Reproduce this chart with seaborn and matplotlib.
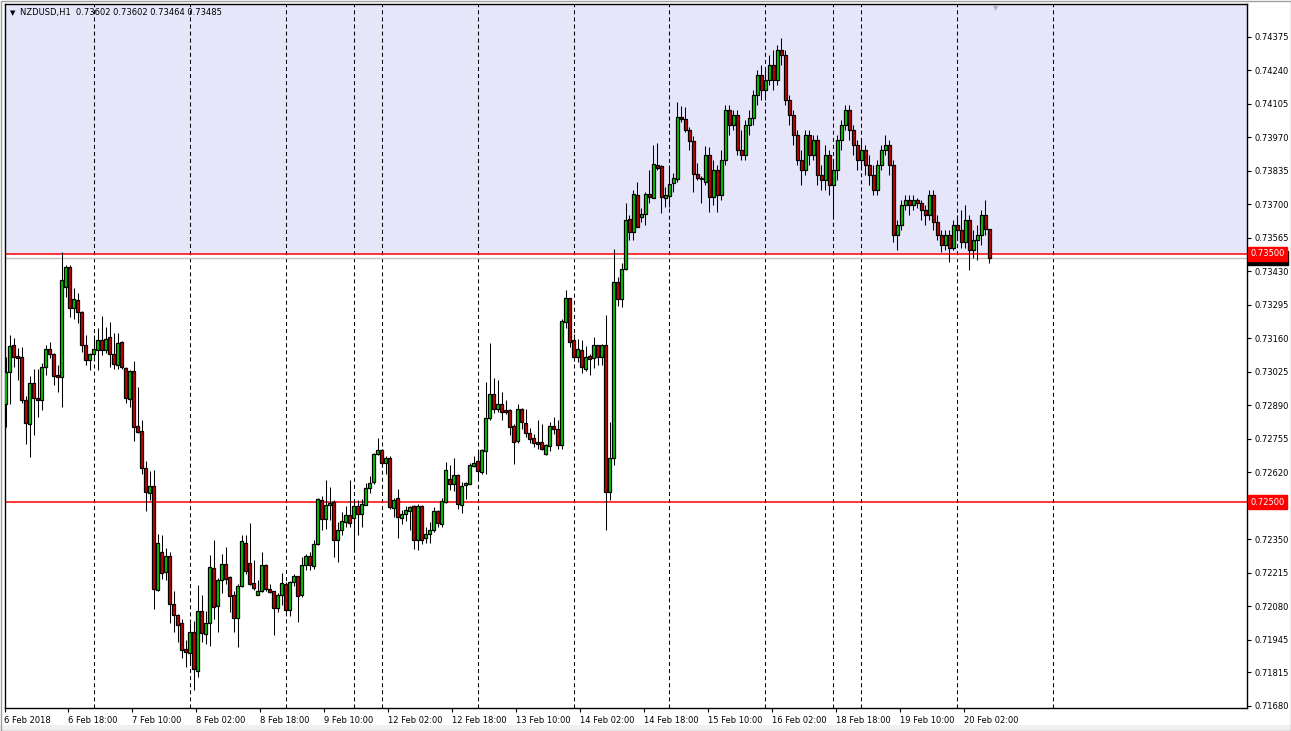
import numpy as np
import matplotlib
matplotlib.use("Agg")
import matplotlib.pyplot as plt
import matplotlib.transforms as mtransforms
from matplotlib.patches import Rectangle
import seaborn as sns

# NZDUSD H1 candles
opens = [
    0.72894, 0.73025, 0.73131, 0.73088, 0.73085, 0.72913, 0.72816, 0.72978, 0.72921, 0.72913,
    0.73045, 0.73116, 0.73096, 0.73011, 0.73005, 0.73365, 0.73448, 0.73283, 0.73314, 0.73267,
    0.73135, 0.73074, 0.73095, 0.73112, 0.73155, 0.73112, 0.73166, 0.73095, 0.73054, 0.73145,
    0.73042, 0.72916, 0.73028, 0.72806, 0.72785, 0.72639, 0.72537, 0.72563, 0.72147, 0.72301,
    0.72218, 0.72285, 0.72090, 0.72047, 0.72012, 0.71908, 0.71892, 0.71978, 0.71818, 0.72063,
    0.71969, 0.72013, 0.72235, 0.72081, 0.72187, 0.72251, 0.72198, 0.72124, 0.72034, 0.72164,
    0.72336, 0.72255, 0.72175, 0.72126, 0.72140, 0.72247, 0.72151, 0.72140, 0.72074, 0.72126,
    0.72171, 0.72066, 0.72177, 0.72202, 0.72124, 0.72245, 0.72281, 0.72242, 0.72330, 0.72507,
    0.72433, 0.72487, 0.72500, 0.72346, 0.72386, 0.72420, 0.72449, 0.72437, 0.72483, 0.72453,
    0.72490, 0.72557, 0.72581, 0.72693, 0.72712, 0.72659, 0.72679, 0.72478, 0.72518, 0.72437,
    0.72451, 0.72464, 0.72484, 0.72348, 0.72484, 0.72356, 0.72370, 0.72386, 0.72463, 0.72413,
    0.72500, 0.72594, 0.72574, 0.72608, 0.72487, 0.72570, 0.72574, 0.72646, 0.72664, 0.72621,
    0.72705, 0.72837, 0.72935, 0.72874, 0.72894, 0.72870, 0.72870, 0.72807, 0.72746, 0.72877,
    0.72820, 0.72780, 0.72760, 0.72742, 0.72742, 0.72695, 0.72726, 0.72805, 0.72796, 0.72732,
    0.73227, 0.73321, 0.73153, 0.73083, 0.73112, 0.73036, 0.73088, 0.73079, 0.73132, 0.73083,
    0.73132, 0.72541, 0.72679, 0.73385, 0.73320, 0.73439, 0.73639, 0.73589, 0.73737, 0.73650,
    0.73659, 0.73740, 0.73724, 0.73858, 0.73854, 0.73724, 0.73733, 0.73784, 0.73801, 0.74051,
    0.74043, 0.74000, 0.73955, 0.73821, 0.73807, 0.73791, 0.73899, 0.73728, 0.73838, 0.73738,
    0.73879, 0.74081, 0.74020, 0.74060, 0.73919, 0.73899, 0.74020, 0.74048, 0.74141, 0.74222,
    0.74161, 0.74202, 0.74262, 0.74202, 0.74323, 0.74302, 0.74121, 0.74060, 0.73980, 0.73879,
    0.73838, 0.73980, 0.73899, 0.73959, 0.73818, 0.73798, 0.73899, 0.73778, 0.73838, 0.73959,
    0.74020, 0.74081, 0.74000, 0.73939, 0.73879, 0.73919, 0.73859, 0.73818, 0.73758, 0.73859,
    0.73919, 0.73939, 0.73859, 0.73576, 0.73617, 0.73697, 0.73717, 0.73697, 0.73717, 0.73705,
    0.73677, 0.73657, 0.73738, 0.73629, 0.73576, 0.73536, 0.73576, 0.73524, 0.73617, 0.73596,
    0.73548, 0.73637, 0.73516, 0.73556, 0.73576, 0.73657, 0.73602,
]
highs = [
    0.73085, 0.73175, 0.73163, 0.73119, 0.73123, 0.72927, 0.73007, 0.73038, 0.73038, 0.73061,
    0.73132, 0.73144, 0.73101, 0.73052, 0.73506, 0.73455, 0.73455, 0.73361, 0.73344, 0.73270,
    0.73173, 0.73101, 0.73175, 0.73202, 0.73251, 0.73206, 0.73226, 0.73180, 0.73180, 0.73149,
    0.73045, 0.73034, 0.73068, 0.72962, 0.72830, 0.72666, 0.72624, 0.72628, 0.72372, 0.72366,
    0.72316, 0.72298, 0.72140, 0.72049, 0.72029, 0.71945, 0.72012, 0.72023, 0.72167, 0.72124,
    0.72063, 0.72288, 0.72346, 0.72195, 0.72292, 0.72319, 0.72202, 0.72144, 0.72171, 0.72366,
    0.72366, 0.72417, 0.72268, 0.72188, 0.72301, 0.72251, 0.72171, 0.72144, 0.72133, 0.72215,
    0.72180, 0.72184, 0.72211, 0.72204, 0.72278, 0.72292, 0.72299, 0.72346, 0.72518, 0.72525,
    0.72588, 0.72561, 0.72507, 0.72420, 0.72460, 0.72483, 0.72588, 0.72507, 0.72507, 0.72514,
    0.72578, 0.72604, 0.72698, 0.72759, 0.72716, 0.72685, 0.72685, 0.72518, 0.72554, 0.72470,
    0.72483, 0.72483, 0.72490, 0.72494, 0.72487, 0.72399, 0.72420, 0.72480, 0.72469, 0.72516,
    0.72662, 0.72648, 0.72679, 0.72615, 0.72581, 0.72581, 0.72658, 0.72685, 0.72702, 0.72716,
    0.72985, 0.73143, 0.73002, 0.72991, 0.72944, 0.72911, 0.72877, 0.72814, 0.72897, 0.72881,
    0.72877, 0.72799, 0.72776, 0.72830, 0.72816, 0.72736, 0.72823, 0.72843, 0.72830, 0.73236,
    0.73354, 0.73321, 0.73179, 0.73159, 0.73153, 0.73128, 0.73096, 0.73166, 0.73132, 0.73136,
    0.73253, 0.72823, 0.73518, 0.73408, 0.73464, 0.73704, 0.73657, 0.73757, 0.73791, 0.73684,
    0.73751, 0.73838, 0.73939, 0.73946, 0.73858, 0.73771, 0.73858, 0.73825, 0.74111, 0.74096,
    0.74091, 0.74013, 0.73973, 0.73868, 0.73814, 0.73935, 0.73932, 0.73879, 0.73859, 0.73919,
    0.74101, 0.74101, 0.74081, 0.74081, 0.74000, 0.74040, 0.74081, 0.74161, 0.74242, 0.74262,
    0.74242, 0.74302, 0.74323, 0.74343, 0.74371, 0.74323, 0.74141, 0.74081, 0.74000, 0.73919,
    0.74000, 0.74000, 0.73980, 0.73980, 0.73859, 0.73939, 0.73919, 0.73879, 0.73980, 0.74040,
    0.74101, 0.74101, 0.74020, 0.73959, 0.73959, 0.73939, 0.73899, 0.73859, 0.73879, 0.73939,
    0.73980, 0.73959, 0.73879, 0.73637, 0.73717, 0.73738, 0.73738, 0.73738, 0.73727, 0.73717,
    0.73697, 0.73758, 0.73758, 0.73657, 0.73596, 0.73596, 0.73596, 0.73637, 0.73657, 0.73677,
    0.73697, 0.73657, 0.73596, 0.73617, 0.73677, 0.73717, 0.73602,
]
lows = [
    0.72803, 0.72897, 0.73045, 0.72991, 0.72900, 0.72736, 0.72682, 0.72769, 0.72843, 0.72873,
    0.73011, 0.73079, 0.72971, 0.72944, 0.72884, 0.73327, 0.73244, 0.73237, 0.73222, 0.73105,
    0.73054, 0.73034, 0.73072, 0.73034, 0.73092, 0.73099, 0.73045, 0.73038, 0.73036, 0.73038,
    0.72900, 0.72884, 0.72746, 0.72779, 0.72612, 0.72464, 0.72510, 0.72070, 0.72144, 0.72191,
    0.72187, 0.72012, 0.71976, 0.71935, 0.71871, 0.71834, 0.71858, 0.71743, 0.71794, 0.71935,
    0.71929, 0.71922, 0.72030, 0.71976, 0.72133, 0.72171, 0.72056, 0.71978, 0.71915, 0.72160,
    0.72211, 0.72168, 0.72148, 0.72124, 0.72137, 0.72144, 0.72133, 0.71965, 0.72059, 0.72086,
    0.72056, 0.72043, 0.72164, 0.72016, 0.72117, 0.72225, 0.72225, 0.72231, 0.72326, 0.72386,
    0.72393, 0.72427, 0.72279, 0.72258, 0.72366, 0.72400, 0.72400, 0.72299, 0.72366, 0.72400,
    0.72487, 0.72537, 0.72574, 0.72689, 0.72642, 0.72615, 0.72474, 0.72440, 0.72357, 0.72413,
    0.72422, 0.72386, 0.72312, 0.72308, 0.72332, 0.72335, 0.72335, 0.72379, 0.72399, 0.72399,
    0.72496, 0.72547, 0.72543, 0.72473, 0.72456, 0.72514, 0.72572, 0.72642, 0.72588, 0.72615,
    0.72615, 0.72830, 0.72859, 0.72863, 0.72830, 0.72857, 0.72769, 0.72652, 0.72738, 0.72796,
    0.72763, 0.72738, 0.72722, 0.72715, 0.72709, 0.72691, 0.72706, 0.72773, 0.72715, 0.72715,
    0.73200, 0.73126, 0.73069, 0.73065, 0.73021, 0.73029, 0.73014, 0.73041, 0.73052, 0.73054,
    0.72386, 0.72507, 0.72650, 0.73290, 0.73287, 0.73435, 0.73556, 0.73556, 0.73609, 0.73630,
    0.73616, 0.73704, 0.73724, 0.73838, 0.73666, 0.73690, 0.73690, 0.73751, 0.73791, 0.74033,
    0.73993, 0.73919, 0.73748, 0.73798, 0.73704, 0.73778, 0.73670, 0.73697, 0.73669, 0.73717,
    0.73859, 0.73980, 0.74000, 0.73899, 0.73879, 0.73879, 0.73980, 0.74020, 0.74101, 0.74121,
    0.74121, 0.74181, 0.74161, 0.74181, 0.74262, 0.74101, 0.74020, 0.73939, 0.73859, 0.73778,
    0.73818, 0.73859, 0.73879, 0.73778, 0.73758, 0.73758, 0.73738, 0.73645, 0.73798, 0.73919,
    0.74000, 0.73960, 0.73899, 0.73838, 0.73838, 0.73818, 0.73778, 0.73738, 0.73738, 0.73838,
    0.73899, 0.73818, 0.73548, 0.73516, 0.73596, 0.73677, 0.73657, 0.73677, 0.73685, 0.73637,
    0.73617, 0.73637, 0.73596, 0.73556, 0.73508, 0.73516, 0.73467, 0.73516, 0.73556, 0.73524,
    0.73524, 0.73435, 0.73483, 0.73475, 0.73536, 0.73576, 0.73464,
]
closes = [
    0.73025, 0.73128, 0.73085, 0.73081, 0.72913, 0.72819, 0.72978, 0.72921, 0.72913, 0.73045,
    0.73115, 0.73095, 0.73009, 0.73005, 0.73395, 0.73448, 0.73283, 0.73317, 0.73267, 0.73135,
    0.73074, 0.73096, 0.73115, 0.73155, 0.73112, 0.73159, 0.73096, 0.73056, 0.73143, 0.73045,
    0.72920, 0.73028, 0.72803, 0.72783, 0.72639, 0.72541, 0.72563, 0.72151, 0.72336, 0.72215,
    0.72285, 0.72090, 0.72046, 0.72005, 0.71904, 0.71895, 0.71978, 0.71828, 0.72063, 0.71973,
    0.72013, 0.72238, 0.72077, 0.72188, 0.72251, 0.72191, 0.72121, 0.72034, 0.72164, 0.72342,
    0.72221, 0.72171, 0.72155, 0.72143, 0.72247, 0.72151, 0.72137, 0.72074, 0.72126, 0.72175,
    0.72067, 0.72177, 0.72202, 0.72121, 0.72245, 0.72281, 0.72245, 0.72330, 0.72511, 0.72433,
    0.72487, 0.72498, 0.72346, 0.72386, 0.72422, 0.72447, 0.72417, 0.72483, 0.72453, 0.72494,
    0.72558, 0.72578, 0.72693, 0.72712, 0.72659, 0.72679, 0.72480, 0.72507, 0.72440, 0.72453,
    0.72470, 0.72480, 0.72348, 0.72484, 0.72348, 0.72373, 0.72389, 0.72463, 0.72416, 0.72503,
    0.72631, 0.72574, 0.72608, 0.72491, 0.72566, 0.72577, 0.72648, 0.72659, 0.72624, 0.72709,
    0.72837, 0.72935, 0.72874, 0.72894, 0.72863, 0.72863, 0.72803, 0.72742, 0.72877, 0.72823,
    0.72779, 0.72756, 0.72738, 0.72736, 0.72715, 0.72729, 0.72807, 0.72796, 0.72732, 0.73229,
    0.73321, 0.73146, 0.73085, 0.73115, 0.73045, 0.73085, 0.73075, 0.73135, 0.73083, 0.73132,
    0.72541, 0.72679, 0.73385, 0.73320, 0.73441, 0.73636, 0.73589, 0.73741, 0.73609, 0.73659,
    0.73740, 0.73728, 0.73862, 0.73845, 0.73728, 0.73737, 0.73780, 0.73805, 0.74051, 0.74044,
    0.74000, 0.73955, 0.73821, 0.73805, 0.73801, 0.73899, 0.73728, 0.73838, 0.73738, 0.73879,
    0.74081, 0.74020, 0.74060, 0.73919, 0.73899, 0.74020, 0.74048, 0.74141, 0.74222, 0.74161,
    0.74202, 0.74262, 0.74202, 0.74323, 0.74302, 0.74121, 0.74060, 0.73980, 0.73879, 0.73838,
    0.73980, 0.73899, 0.73959, 0.73818, 0.73798, 0.73899, 0.73778, 0.73838, 0.73959, 0.74020,
    0.74081, 0.74000, 0.73939, 0.73879, 0.73919, 0.73859, 0.73818, 0.73758, 0.73859, 0.73919,
    0.73939, 0.73859, 0.73576, 0.73617, 0.73697, 0.73717, 0.73697, 0.73717, 0.73705, 0.73677,
    0.73657, 0.73738, 0.73629, 0.73576, 0.73536, 0.73576, 0.73524, 0.73617, 0.73596, 0.73548,
    0.73637, 0.73516, 0.73556, 0.73576, 0.73657, 0.73602, 0.73485,
]

time_labels = ["6 Feb 2018", "6 Feb 18:00", "7 Feb 10:00", "8 Feb 02:00", "8 Feb 18:00",
               "9 Feb 10:00", "12 Feb 02:00", "12 Feb 18:00", "13 Feb 10:00", "14 Feb 02:00",
               "14 Feb 18:00", "15 Feb 10:00", "16 Feb 02:00", "18 Feb 18:00", "19 Feb 10:00",
               "20 Feb 02:00"]
day_breaks = [22, 46, 70, 87, 94, 118, 142, 166, 190, 207, 214, 238, 262]
price_ticks = [0.74375, 0.74240, 0.74105, 0.73970, 0.73835, 0.73700, 0.73565, 0.73430,
               0.73295, 0.73160, 0.73025, 0.72890, 0.72755, 0.72620, 0.72485, 0.72350,
               0.72215, 0.72080, 0.71945, 0.71815, 0.71680]
resistance = 0.7350
support = 0.7250
bid = 0.73485
header = "NZDUSD,H1  0.73602 0.73602 0.73464 0.73485"

W, H = 1291, 731
sns.set_theme(style="white")
plt.rcParams["font.family"] = ["DejaVu Sans"]
plt.rcParams["lines.scale_dashes"] = False

fig = plt.figure(figsize=(W / 100, H / 100), dpi=100)
fig.patch.set_facecolor("white")

# window chrome: grey strip under the time scale and a thin outer border
fig.patches.append(Rectangle((0, 0), 1, 6 / H, transform=fig.transFigure,
                             fc="#F0F0F0", ec="none", zorder=0))
fig.patches.append(Rectangle((0.5 / W, 0.5 / H), 1 - 1 / W, 1 - 1 / H,
                             transform=fig.transFigure, fc="none", ec="#A0A0A0",
                             lw=1, zorder=0))

ax = fig.add_axes([4.5 / W, (H - 707.5) / H, 1242 / W, 703.5 / H])
ax.set_facecolor("white")

y_top, y_bot = 0.745067, 0.716727
ax.set_xlim(-0.2, 310.3)
ax.set_ylim(y_bot, y_top)

o = np.array(opens)
c = np.array(closes)
x = np.arange(len(o))
up = c >= o

# resistance zone above 0.7350
ax.axhspan(resistance, y_top, color="#E6E6FA", zorder=0, lw=0)

ax.vlines(day_breaks, y_bot, y_top, colors="black", linestyles=(0, (2.9, 2.2)),
          lw=0.75, zorder=1)

ax.axhline(bid, color="#C0C0C0", lw=1, zorder=2)
ax.axhline(resistance, color="#FF0000", lw=1.1, zorder=2)
ax.axhline(support, color="#FF0000", lw=1.1, zorder=2)

# candles
ax.vlines(x, lows, highs, colors="black", lw=0.75, zorder=3)
ax.bar(x, np.abs(c - o), bottom=np.minimum(o, c), width=0.62,
       color=np.where(up, "#00D000", "#D00000"), edgecolor="black",
       linewidth=0.9, zorder=4)

for s in ax.spines.values():
    s.set_color("black")
    s.set_linewidth(1)

ax.yaxis.tick_right()
ax.set_yticks(price_ticks)
ax.set_yticklabels([f"{p:.5f}" for p in price_ticks])
ax.set_xticks([16 * i - 0.3 for i in range(len(time_labels))])
ax.set_xticklabels(time_labels)
for lab in ax.get_xticklabels():
    lab.set_horizontalalignment("left")
ax.tick_params(axis="y", right=True, left=False, length=3, width=0.8, pad=2.5,
               labelsize=6, colors="black")
ax.tick_params(axis="x", bottom=True, length=3, width=0.8, pad=3,
               labelsize=6, colors="black")

# price tags on the right scale
tr = mtransforms.blended_transform_factory(ax.transAxes, ax.transData)
ax.text(1.0 + 4.0 / 1242, bid, f"{bid:.5f}", transform=tr, va="center", ha="left",
        color="white", fontsize=6, clip_on=False, zorder=9,
        bbox=dict(boxstyle="square,pad=0.3", fc="black", ec="black"))
for lvl in (resistance, support):
    ax.text(1.0 + 4.0 / 1242, lvl, f"{lvl:.5f}", transform=tr, va="center", ha="left",
            color="white", fontsize=6, clip_on=False, zorder=10,
            bbox=dict(boxstyle="square,pad=0.3", fc="#FF0000", ec="#FF0000"))

fig.text(10 / W, 1 - 13 / H, "\u25bc", fontsize=5, va="center", ha="left", color="black")
fig.text(20 / W, 1 - 13 / H, header, fontsize=6, va="center", ha="left", color="black")
fig.text(993 / W, 1 - 8 / H, "\u25bc", fontsize=5, va="center", ha="left", color="#B0B0B0")

fig.savefig("out.png", dpi=100)
